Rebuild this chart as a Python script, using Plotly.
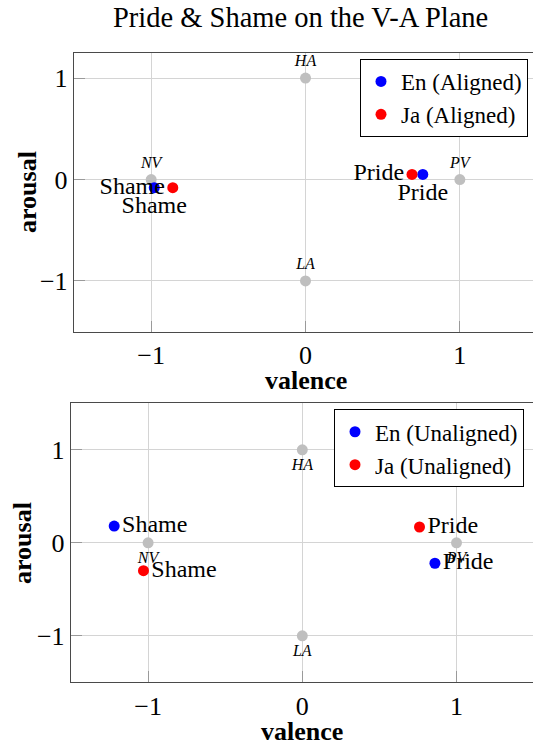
import plotly.graph_objects as go

# ---------------- data ----------------
emotions = ["Shame", "Pride"]

# Aligned (top panel)
en_aligned_valence = [-0.98, 0.76]
en_aligned_arousal = [-0.08, 0.05]
ja_aligned_valence = [-0.86, 0.69]
ja_aligned_arousal = [-0.08, 0.05]

# Unaligned (bottom panel)
en_unaligned_valence = [-1.22, 0.86]
en_unaligned_arousal = [0.18, -0.22]
ja_unaligned_valence = [-1.03, 0.76]
ja_unaligned_arousal = [-0.30, 0.17]

# reference anchors on the V-A plane
ref_labels = ["HA", "LA", "NV", "PV"]
ref_valence = [0, 0, -1, 1]
ref_arousal = [1, -1, 0, 0]

tick_vals = [-1, 0, 1]
tick_text = ["\u22121", "0", "1"]

title_text = "Pride &amp; Shame on the V-A Plane"

# ---------------- style ----------------
SERIF = "Liberation Serif, Times New Roman, serif"
BLUE = "#0000ff"
RED = "#ff0000"
GREY_PT = "#bfbfbf"
GRID = "#d4d4d4"
FRAME = "#4a4a4a"
W, H = 533, 742
LBL = 24

fig = go.Figure()

def add_refs(xa, ya, pos):
    fig.add_trace(go.Scatter(
        x=ref_valence, y=ref_arousal, xaxis=xa, yaxis=ya,
        mode="markers+text",
        text=["<i>%s</i>" % t for t in ref_labels],
        textposition=pos,
        textfont=dict(family=SERIF, size=16, color="black"),
        marker=dict(color=GREY_PT, size=11),
        showlegend=False, hoverinfo="skip", cliponaxis=False))

# top panel
add_refs("x", "y", "top center")
fig.add_trace(go.Scatter(
    x=en_aligned_valence, y=en_aligned_arousal, xaxis="x", yaxis="y",
    mode="markers+text", text=emotions, textposition="bottom center",
    textfont=dict(family=SERIF, size=LBL, color="black"),
    marker=dict(color=BLUE, size=11), name="En (Aligned)", legend="legend",
    cliponaxis=False))
fig.add_trace(go.Scatter(
    x=ja_aligned_valence, y=ja_aligned_arousal, xaxis="x", yaxis="y",
    mode="markers+text", text=emotions, textposition="middle left",
    textfont=dict(family=SERIF, size=LBL, color="black"),
    marker=dict(color=RED, size=11), name="Ja (Aligned)", legend="legend",
    cliponaxis=False))

# bottom panel
add_refs("x2", "y2", "bottom center")
fig.add_trace(go.Scatter(
    x=en_unaligned_valence, y=en_unaligned_arousal, xaxis="x2", yaxis="y2",
    mode="markers+text", text=emotions, textposition="middle right",
    textfont=dict(family=SERIF, size=LBL, color="black"),
    marker=dict(color=BLUE, size=11), name="En (Unaligned)", legend="legend2",
    cliponaxis=False))
fig.add_trace(go.Scatter(
    x=ja_unaligned_valence, y=ja_unaligned_arousal, xaxis="x2", yaxis="y2",
    mode="markers+text", text=emotions, textposition="middle right",
    textfont=dict(family=SERIF, size=LBL, color="black"),
    marker=dict(color=RED, size=11), name="Ja (Unaligned)", legend="legend2",
    cliponaxis=False))

def px_x(p):
    return p / W

def px_y(p):
    return 1 - p / H

axis_common = dict(
    tickmode="array", tickvals=tick_vals, ticktext=tick_text,
    showgrid=True, gridcolor=GRID, gridwidth=1.2, zeroline=False,
    ticks="inside", ticklen=11, tickcolor="#9a9a9a", tickwidth=1.2,
    tickfont=dict(family=SERIF, size=26, color="black"),
    showline=True, linewidth=1.4, linecolor=FRAME,
)

legend_common = dict(
    xanchor="right", yanchor="top",
    bordercolor="black", borderwidth=1, bgcolor="white",
    font=dict(family=SERIF, size=23, color="black"),
    itemwidth=30, tracegroupgap=0,
)

def ann(text, x, y, size, angle=0):
    return dict(text=text, x=px_x(x), y=px_y(y), xref="paper", yref="paper",
                xanchor="center", yanchor="middle", showarrow=False,
                textangle=angle, font=dict(family=SERIF, size=size, color="black"))

fig.update_layout(
    width=W, height=H,
    margin=dict(l=0, r=0, t=0, b=0),
    paper_bgcolor="white", plot_bgcolor="white",
    xaxis=dict(domain=[px_x(74), 1], range=[-1.5, 1.474], anchor="y",
               mirror=True, **axis_common),
    yaxis=dict(domain=[px_y(331.7), px_y(52.7)], range=[-1.5, 1.25], anchor="x",
               mirror=False, **axis_common),
    xaxis2=dict(domain=[px_x(71), 1], range=[-1.5, 1.496], anchor="y2",
                mirror=True, **axis_common),
    yaxis2=dict(domain=[px_y(682.3), px_y(403.3)], range=[-1.5, 1.5], anchor="x2",
                mirror=False, **axis_common),
    legend=dict(x=px_x(528), y=px_y(59), **legend_common),
    legend2=dict(x=px_x(524), y=px_y(409.3), **legend_common),
    annotations=[
        ann(title_text, 300, 17, 28.5),
        ann("<b>valence</b>", 306, 380, 26),
        ann("<b>valence</b>", 302, 731, 26),
        ann("<b>arousal</b>", 27, 192, 26, -90),
        ann("<b>arousal</b>", 22, 543, 26, -90),
    ],
)

fig.write_html("out.html", config={"displayModeBar": False},
               post_script="document.body.style.margin='0';")
